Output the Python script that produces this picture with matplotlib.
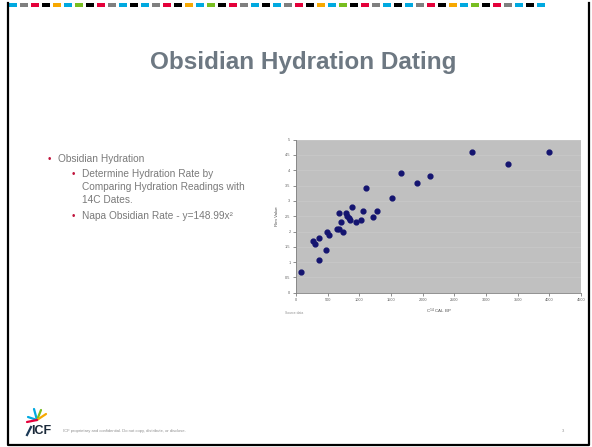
import matplotlib.pyplot as plt
from matplotlib.patches import Rectangle

# data
cal_bp = [74, 274, 295, 363, 363, 468, 484, 521, 653, 679, 684, 710, 737,
          784, 811, 837, 853, 879, 947, 1026, 1058, 1100, 1221, 1284, 1510,
          1658, 1905, 2116, 2774, 3353, 4000]
rim_value = [0.69, 1.70, 1.59, 1.78, 1.07, 1.41, 1.99, 1.88, 2.08, 2.08, 2.59,
             2.30, 1.99, 2.59, 2.51, 2.43, 2.36, 2.79, 2.30, 2.37, 2.68, 3.41,
             2.48, 2.68, 3.08, 3.91, 3.58, 3.81, 4.59, 4.20, 4.59]
x_ticks = [0, 500, 1000, 1500, 2000, 2500, 3000, 3500, 4000, 4500]
y_ticks = [0, 0.5, 1, 1.5, 2, 2.5, 3, 3.5, 4, 4.5, 5]

plt.rcParams['font.family'] = ['Liberation Sans', 'DejaVu Sans']

W, H = 592, 447
fig = plt.figure(figsize=(W / 100, H / 100), dpi=100)
fig.patch.set_facecolor('white')

# slide frame and coloured strip on top
bg = fig.add_axes([0, 0, 1, 1])
bg.set_xlim(0, W)
bg.set_ylim(H, 0)
bg.axis('off')
bg.plot([7.5, 7.5, 589, 589], [3, 444.5, 444.5, 3], color='black', lw=1.6)
strip = ['#00a9e0', '#7f7f7f', '#e4003a', '#000000', '#f7a800', '#00a9e0',
         '#78be20', '#000000', '#e4003a', '#7f7f7f', '#00a9e0', '#000000']
x = 9
i = 0
while x < 545:
    bg.add_patch(Rectangle((x, 3), 8, 4, color=strip[i % len(strip)], lw=0))
    x += 11
    i += 1

# title and bullets
bg.text(303, 63, 'Obsidian Hydration Dating', ha='center', va='center',
        fontsize=17.5, fontweight='bold', color='#6d7882')
bullet_col = '#c0143c'
txt_col = '#7a7a7a'
fs = 7.3
bg.text(48, 159, '\u2022', color=bullet_col, fontsize=7, va='center')
bg.text(58, 159, 'Obsidian Hydration', color=txt_col, fontsize=fs, va='center')
bg.text(72, 174, '\u2022', color=bullet_col, fontsize=7, va='center')
bg.text(82, 174, 'Determine Hydration Rate by', color=txt_col, fontsize=fs, va='center')
bg.text(82, 187, 'Comparing Hydration Readings with', color=txt_col, fontsize=fs, va='center')
bg.text(82, 200, '14C Dates.', color=txt_col, fontsize=fs, va='center')
bg.text(72, 216, '\u2022', color=bullet_col, fontsize=7, va='center')
bg.text(82, 216, 'Napa Obsidian Rate - y=148.99x\u00b2', color=txt_col, fontsize=fs, va='center')

# footer with ICF logo
cx, cy = 37, 420
for dx, dy, c in [(-3, -11, '#00a9e0'), (4, -10, '#78be20'), (9, -6, '#f7a800'),
                  (-9, -3, '#00a9e0'), (-10, 2, '#e4003a')]:
    bg.plot([cx, cx + dx], [cy, cy + dy], color=c, lw=1.6, solid_capstyle='round')
bg.plot([27, 31], [435, 427], color='#1b3a57', lw=1.6)
bg.text(31, 431, 'ICF', fontsize=9, fontweight='bold', color='#1b2a3a', va='center')
bg.text(63, 431, 'ICF proprietary and confidential. Do not copy, distribute, or disclose.',
        fontsize=3.0, color='#909090', va='center')
bg.text(562, 431, '3', fontsize=3.0, color='#909090', va='center')

# scatter chart
ax = fig.add_axes([296 / W, 1 - 292.7 / H, (581 - 296) / W, (292.7 - 139.7) / H])
ax.set_facecolor('#c0c0c0')
ax.scatter(cal_bp, rim_value, s=12, color='#141470', zorder=3)
ax.set_xlim(0, 4500)
ax.set_ylim(0, 5)
ax.set_xticks(x_ticks)
ax.set_yticks(y_ticks)
ax.set_xticklabels([str(t) for t in x_ticks])
ax.set_yticklabels(['0', '0.5', '1', '1.5', '2', '2.5', '3', '3.5', '4', '4.5', '5'])
ax.tick_params(labelsize=2.8, length=2, width=0.5, colors='#606060', pad=2)
ax.grid(axis='y', color='#cbcbcb', lw=0.4)
ax.set_axisbelow(True)
for side in ['top', 'right']:
    ax.spines[side].set_visible(False)
for side in ['left', 'bottom']:
    ax.spines[side].set_color('#808080')
    ax.spines[side].set_linewidth(0.6)
ax.set_xlabel('C$^{14}$ CAL BP', fontsize=3.2, color='#505050', labelpad=3)
ax.set_ylabel('Rim Value', fontsize=3.2, color='#505050', labelpad=4)
bg.text(285, 313, 'Source data', fontsize=2.4, color='#909090', va='center')

fig.savefig('out.png', dpi=100)
